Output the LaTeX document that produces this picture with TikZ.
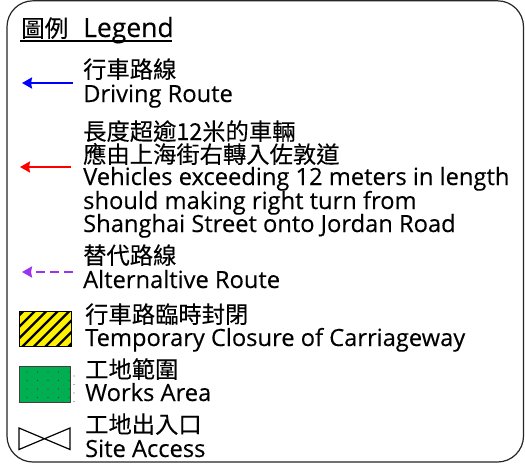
\documentclass[tikz,border=0pt]{standalone}
\usepackage{fontspec}
\setmainfont[FakeBold=0.25]{Open Sans}
\newfontfamily\cjk[FakeBold=0.2]{Noto Sans CJK TC}
\usetikzlibrary{patterns,arrows.meta}
\tikzset{
  en/.style={anchor=base west,inner sep=0pt,font=\fontsize{23.7}{24}\selectfont},
  zh/.style={anchor=base west,inner sep=0pt,font=\cjk\fontsize{23.3}{24}\selectfont},
  route/.style={line width=2.2pt,-{Stealth[length=10pt,width=11pt,inset=1pt]}}
}
\begin{document}
\begin{tikzpicture}[x=1pt,y=-1pt]
\useasboundingbox (0,0) rectangle (525,472);
\fill[white] (0,0) rectangle (525,472);
\draw[line width=1.2pt,rounded corners=26pt,color=black!85] (7,0.8) rectangle (523.5,462);
% title
\node[anchor=base west,inner sep=0pt,font=\cjk\fontsize{23.5}{24}\selectfont] (title) at (21,37) {圖例};
\node[anchor=base west,inner sep=0pt,font=\fontsize{26.5}{24}\selectfont] (titleen) at (83,37) {Legend};
\draw[line width=1.4pt] (20,41) -- (172,41);
% driving
\node[zh] (d1) at (83,78) {行車路線};
\node[en] (d2) at (83,102) {Driving Route};
\coordinate (a1s) at (73,83); \coordinate (a1e) at (22,83);
\draw[route,blue] (a1s) -- (a1e);
% red
\node[zh] (r1) at (83,140) {長度超逾12米的車輛};
\node[zh] (r2) at (83,163) {應由上海街右轉入佐敦道};
\node[en] (r3) at (83,185) {Vehicles exceeding 12 meters in length};
\node[en] (r4) at (83,209) {should making right turn from};
\node[en] (r5) at (83,232) {Shanghai Street onto Jordan Road};
\coordinate (a2s) at (71,167); \coordinate (a2e) at (20,167);
\draw[route,red] (a2s) -- (a2e);
% alternative
\node[zh] (t1) at (83,264) {替代路線};
\node[en] (t2) at (83,288) {Alternaltive Route};
\coordinate (a3s) at (73,272); \coordinate (a3e) at (22,272);
\draw[route,color={rgb,255:red,153;green,51;blue,238},dash pattern=on 9pt off 5pt] (a3s) -- (a3e);
% closure
\node[zh] (c1) at (85,323) {行車路臨時封閉};
\node[en] (c2) at (85,346) {Temporary Closure of Carriageway};
\begin{scope}
\clip (19,311) rectangle (71,346);
\fill[yellow] (19,311) rectangle (71,346);
\foreach \i in {-4,...,6} {
  \draw[line width=2.4pt,black] (19+\i*11.5,350) -- (19+\i*11.5+43,307);
}
\end{scope}
\draw[line width=1pt] (19,311) rectangle (71,346);
% works
\node[zh] (w1) at (85,378) {工地範圍};
\node[en] (w2) at (85,401) {Works Area};
\fill[color={rgb,255:red,0;green,176;blue,80}] (19,366) rectangle (70,402);
\foreach \r in {0,...,3} \foreach \c in {0,...,4} {
  \fill[black!75] (27+\c*10.5,372+\r*8.5) circle (0.55pt);
  \fill[black!60] (32+\c*10.5,376+\r*8.5) circle (0.55pt);
}
\draw[line width=1pt,color=black!75] (19,366) rectangle (70,402);
% access
\node[zh] (s1) at (85,433) {工地出入口};
\node[en] (s2) at (85,457) {Site Access};
\coordinate (p1) at (19,428); \coordinate (p2) at (70,449.5);
\coordinate (p3) at (70,428); \coordinate (p4) at (19,449.5);
\draw[line width=1.2pt,line join=miter,color=black] (p1) -- (p2) -- (p3) -- (p4) -- cycle;
\end{tikzpicture}
\end{document}
